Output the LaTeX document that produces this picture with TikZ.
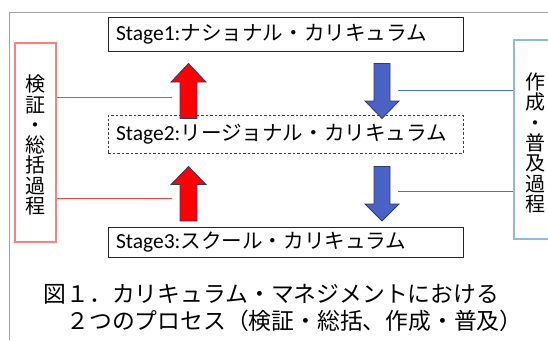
\documentclass[tikz,border=0pt]{standalone}
\usepackage{fontspec}
\newfontfamily\jp{Noto Sans CJK JP}
\newfontfamily\lat{Carlito}
\definecolor{redfill}{HTML}{FF0000}
\definecolor{bluefill}{HTML}{4A62C4}
\definecolor{arrowedge}{HTML}{2F3B73}
\definecolor{redbox}{HTML}{FF7F7F}
\definecolor{redline}{HTML}{FF4040}
\definecolor{bluebox}{HTML}{8EB8E5}
\definecolor{blueline}{HTML}{4472C4}
\definecolor{framegray}{HTML}{A0A0A0}
\newcommand{\stlat}[1]{{\lat\fontsize{21.5}{24}\selectfont #1}}
\newcommand{\stjp}[1]{{\jp\fontsize{20.6}{24}\selectfont #1}}
\begin{document}
\begin{tikzpicture}[x=1pt,y=-1pt,
  stagebox/.style={draw=black!85, line width=1pt, inner xsep=8pt, inner ysep=0pt,
    text width=339pt, align=left},
  sidetext/.style={align=center, inner sep=0pt, font=\jp\fontsize{20}{20.3}\selectfont},
  captext/.style={anchor=base west, inner sep=0pt, font=\jp\fontsize{22.8}{27}\selectfont},
  uparrow/.style={fill=redfill, draw=arrowedge, line width=0.8pt, line join=miter},
  downarrow/.style={fill=bluefill, draw=arrowedge, line width=0.8pt, line join=miter},
  redconn/.style={draw=redline, line width=0.9pt},
  blueconn/.style={draw=blueline, line width=0.9pt}]
\useasboundingbox (0,0) rectangle (548,340);
\clip (0,0) rectangle (548,340);
% outer frame
\draw[framegray, line width=0.9pt] (9.5,340) -- (9.5,12) -- (548,12);
% stages
\node[stagebox, minimum height=34pt] (s1) at (285.5,34) {\stlat{Stage1:}\stjp{ナショナル・カリキュラム}};
\node[stagebox, minimum height=38pt, dash pattern=on 2.5pt off 2pt, draw=black!75] (s2) at (285.5,134) {\stlat{Stage2:}\stjp{リージョナル・カリキュラム}};
\node[stagebox, minimum height=30pt] (s3) at (285.5,242) {\stlat{Stage3:}\stjp{スクール・カリキュラム}};
% side boxes
\node[draw=redbox, line width=1.1pt, minimum width=41pt, minimum height=199pt, inner sep=0pt] (lbox) at (35.5,142.5) {};
\node[sidetext] (ltext) at (35,145) {検\\証\\・\\総\\括\\過\\程};
\node[draw=bluebox, line width=1.1pt, minimum width=46pt, minimum height=199pt, inner sep=0pt] (rbox) at (537,139.5) {};
\node[sidetext] (rtext) at (535,143) {作\\成\\・\\普\\及\\過\\程};
% arrows
\draw[uparrow] (180,118.5) -- (180,82) -- (171,82) -- (188.5,63.5) -- (206,82) -- (197,82) -- (197,118.5) -- cycle;
\draw[uparrow] (180,221) -- (180,184.5) -- (171,184.5) -- (188.5,166.5) -- (206,184.5) -- (197,184.5) -- (197,221) -- cycle;
\draw[downarrow] (374,63.5) -- (390,63.5) -- (390,101) -- (399,101) -- (382,118.5) -- (365,101) -- (374,101) -- cycle;
\draw[downarrow] (374,166.5) -- (390,166.5) -- (390,204) -- (399,204) -- (382,221) -- (365,204) -- (374,204) -- cycle;
% connectors
\coordinate (r1) at (172,97);
\coordinate (r2) at (172,198);
\coordinate (b1) at (398,90);
\coordinate (b2) at (398,191);
\draw[redconn] (lbox.east |- r1) -- (r1);
\draw[redconn] (lbox.east |- r2) -- (r2);
\draw[blueconn] (b1) -- (b1 -| rbox.west);
\draw[blueconn] (b2) -- (b2 -| rbox.west);
% caption
\node[captext] (cap1) at (43.5,302) {図１．カリキュラム・マネジメントにおける};
\node[captext] (cap2) at (43.5,329) {　２つのプロセス（検証・総括、作成・普及）};
\end{tikzpicture}
\end{document}
